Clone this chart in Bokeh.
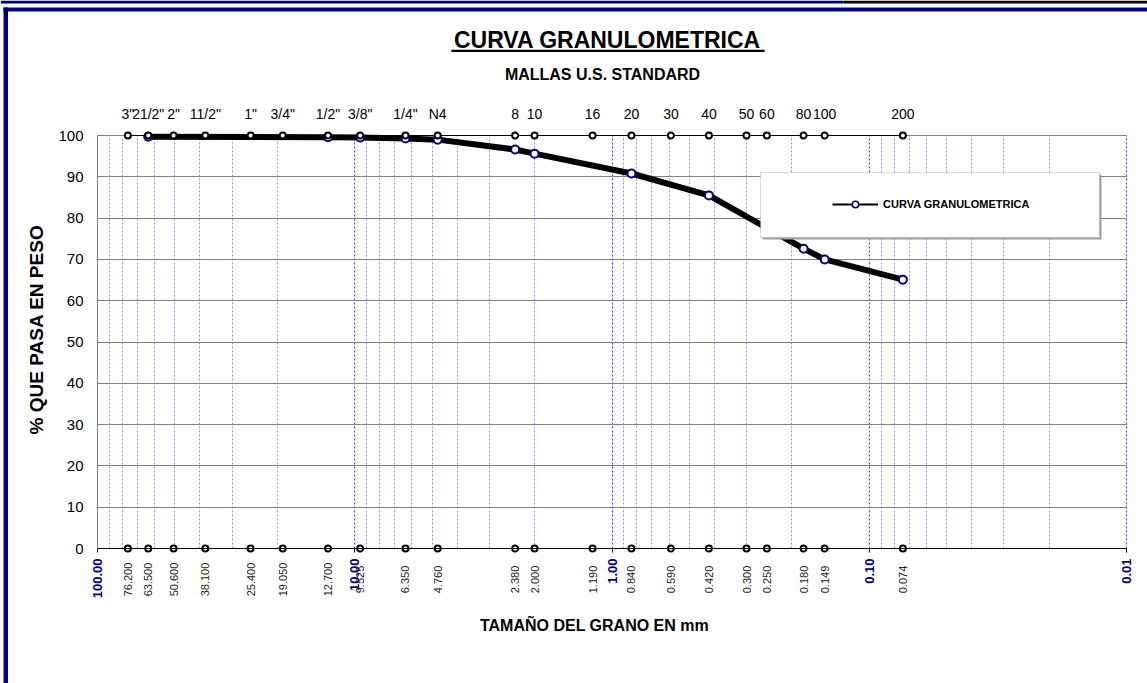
import math
from bokeh.plotting import figure
from bokeh.models import (Range1d, FixedTicker, PrintfTickFormatter, LabelSet, Label,
                          ColumnDataSource, BoxAnnotation, Legend, LegendItem)
from bokeh.core.properties import value
from bokeh.embed import file_html
from bokeh.resources import INLINE

# ---- data -------------------------------------------------------------
mallas = ['3"', '21/2"', '2"', '11/2"', '1"', '3/4"', '1/2"', '3/8"', '1/4"', 'N4',
          '8', '10', '16', '20', '30', '40', '50', '60', '80', '100', '200']
tamanos_mm = [76.2, 63.5, 50.6, 38.1, 25.4, 19.05, 12.7, 9.525, 6.35, 4.76,
              2.38, 2.0, 1.19, 0.84, 0.59, 0.42, 0.30, 0.25, 0.18, 0.149, 0.074]
abertura_mm = [63.5, 12.7, 9.525, 6.35, 4.76, 2.38, 2.0, 0.84, 0.42, 0.18, 0.149, 0.074]
pasa = [99.7, 99.6, 99.5, 99.3, 99.0, 96.6, 95.6, 90.8, 85.5, 72.6, 70.0, 65.1]
decadas = [100, 10, 1, 0.1, 0.01]
ticks_y = list(range(0, 101, 10))

FONT = "Liberation Sans"
NAVY = "#000080"

minor = [d * k for d in decadas[1:] for k in range(2, 10)]

# ---- layout: the frame covers the whole canvas ---------------------------
W, H = 1147, 683
PL, PR, PT, PB = 97, 1126, 135, 548          # pixel position of the chart box
PX_DEC = (PR - PL) / 4.0
PX_Y = (PB - PT) / 100.0
x_start = 10 ** (2 + PL / PX_DEC)
x_end = 10 ** (-2 - (W - PR) / PX_DEC)
y_top = 100 + PT / PX_Y
y_bot = -(H - PB) / PX_Y

p = figure(width=W, height=H, x_axis_type="log", title=None,
           x_range=Range1d(x_start, x_end), y_range=Range1d(y_bot, y_top),
           output_backend="svg", toolbar_location=None,
           min_border=0, min_border_left=0, min_border_right=0,
           min_border_top=0, min_border_bottom=0)
p.outline_line_color = None
p.background_fill_color = "white"
p.border_fill_color = "white"


def sy(page_y):
    return H - page_y


# ---- x axis (decades) -----------------------------------------------------
xa = p.xaxis[0]
xa.ticker = FixedTicker(ticks=decadas, minor_ticks=minor)
xa.formatter = PrintfTickFormatter(format="%.2f")
xa.fixed_location = 0
xa.bounds = (0.01, 100)
xa.major_label_orientation = math.pi / 2
xa.major_label_text_font = FONT
xa.major_label_text_font_size = "13px"
xa.major_label_text_font_style = "bold"
xa.major_label_text_color = NAVY
xa.major_tick_out = 4
xa.major_tick_in = 0
xa.minor_tick_out = 0
xa.minor_tick_in = 0
xa.axis_line_color = "black"
xa.major_tick_line_color = "black"
xa.major_label_standoff = 6

# ---- y axis -----------------------------------------------------------
ya = p.yaxis[0]
ya.ticker = FixedTicker(ticks=ticks_y)
ya.fixed_location = 100
ya.bounds = (0, 100)
ya.axis_line_color = "#808080"
ya.major_tick_line_color = None
ya.minor_tick_line_color = None
ya.major_tick_out = 0
ya.major_tick_in = 0
ya.major_label_text_font = FONT
ya.major_label_text_font_size = "15px"
ya.major_label_text_color = "black"
ya.major_label_standoff = 14

# ---- grids ------------------------------------------------------------
xg = p.xgrid[0]
xg.grid_line_color = "#3a3aff"
xg.grid_line_dash = "2 2"
xg.minor_grid_line_color = "#8c8cff"
xg.minor_grid_line_dash = "2 2"
xg.cross_bounds = (0, 100)
yg = p.ygrid[0]
yg.ticker = FixedTicker(ticks=ticks_y)
yg.grid_line_color = "#808080"
yg.grid_line_width = 1
yg.cross_bounds = (0.01, 100)

# ---- data curve -------------------------------------------------------
src = ColumnDataSource(dict(x=abertura_mm, y=pasa))
p.line("x", "y", source=src, line_width=6, line_color="black")
p.scatter("x", "y", source=src, size=8, fill_color="white",
          line_color=NAVY, line_width=2)

# ---- sieve rows -------------------------------------------------------
n = len(tamanos_mm)
ssrc = ColumnDataSource(dict(x=tamanos_mm, top=[100] * n, bot=[0] * n,
                             malla=mallas, lbl=[f"{t:.3f}" for t in tamanos_mm]))
p.line("x", "top", source=ssrc, line_color="black", line_width=1)
p.line("x", "bot", source=ssrc, line_color="black", line_width=1)
p.scatter("x", "top", source=ssrc, size=6, fill_color="white",
          line_color="black", line_width=2)
p.scatter("x", "bot", source=ssrc, size=6, fill_color="white",
          line_color="black", line_width=2)

p.add_layout(LabelSet(x="x", y="top", text="malla", source=ssrc, y_offset=22,
                      text_align="center", text_baseline="middle",
                      text_font=value(FONT), text_font_size="14px",
                      text_color="black"))
p.add_layout(LabelSet(x="x", y="bot", text="lbl", source=ssrc, y_offset=-31,
                      angle=math.pi / 2, text_align="center", text_baseline="middle",
                      text_font=value(FONT), text_font_size="11px",
                      text_color="#222222"))


def box(l, r, b, t, color, **kw):
    return BoxAnnotation(left=l, right=r, bottom=b, top=t,
                         left_units="screen", right_units="screen",
                         bottom_units="screen", top_units="screen",
                         fill_color=color, fill_alpha=1, **kw)


def texto(x, page_y, txt, size, angle=0.0):
    return Label(x=x, y=sy(page_y), x_units="screen", y_units="screen",
                 text=txt, text_align="center", text_baseline="middle", angle=angle,
                 text_font=FONT, text_font_size=size, text_font_style="bold",
                 text_color="black")


# ---- titles -----------------------------------------------------------
p.add_layout(texto(607, 39, "CURVA GRANULOMETRICA", "23px"))
p.add_layout(box(451, 764, sy(51.5), sy(49.3), "black", line_color=None))
p.add_layout(texto(602, 74, "MALLAS U.S. STANDARD", "16px"))
p.add_layout(texto(594, 624.5, "TAMAÑO DEL GRANO EN mm", "16px"))
p.add_layout(texto(36, 329, "% QUE PASA EN PESO", "19px", angle=math.pi / 2))

# ---- page border ------------------------------------------------------
p.add_layout(box(0, 843, sy(3), sy(0), NAVY, line_color=None))
p.add_layout(box(843, W, sy(3), sy(0), "black", line_color=None))
p.add_layout(box(3, W, sy(11), sy(7), NAVY, line_color=None))
p.add_layout(box(3, 7.5, 0, sy(7), NAVY, line_color=None))

# ---- legend -----------------------------------------------------------
p.add_layout(box(762, 1101, sy(239), sy(174), "#a0a0a0", line_color=None))
p.add_layout(box(760, 1099, sy(237), sy(172), "white",
                 line_color="#808080", line_width=1))
p.extra_y_ranges = {"oculto": Range1d(1000, 1001)}
lg_line = p.line("x", "y", source=src, y_range_name="oculto",
                 line_color="black", line_width=2)
lg_pt = p.scatter("x", "y", source=src, y_range_name="oculto", size=4,
                  fill_color="white", line_color=NAVY, line_width=1.5)
legend = Legend(items=[LegendItem(label="CURVA GRANULOMETRICA", renderers=[lg_line, lg_pt])],
                location=(832, sy(212)), padding=0, margin=0, spacing=0,
                border_line_color=None, background_fill_alpha=0,
                glyph_width=46, glyph_height=16, label_height=16, label_standoff=5,
                label_text_font=FONT, label_text_font_size="11px",
                label_text_font_style="bold", label_text_color="black")
p.add_layout(legend)

open("out.html", "w").write(file_html(p, INLINE))
